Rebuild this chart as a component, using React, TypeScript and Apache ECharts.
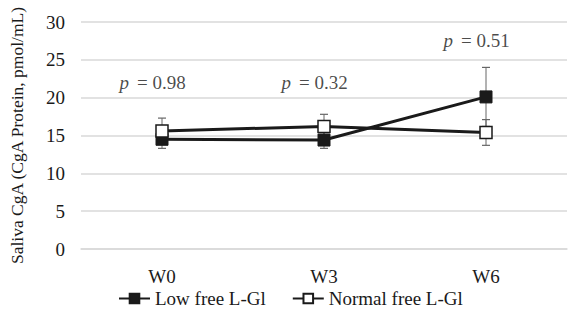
import React, { useEffect, useRef } from "react";
import * as echarts from "echarts";

const categories = ["W0", "W3", "W6"];
const lowValues = [14.5, 14.4, 20.1];
const lowErrors = [1.2, 1.1, 3.9];
const normalValues = [15.6, 16.2, 15.4];
const normalErrors = [1.7, 1.6, 1.7];
const pLabels = ["0.98", "0.32", "0.51"];
const pHeights = [22.0, 22.0, 27.6];
const yTicks = { min: 0, max: 30, interval: 5 };

const FONT = "Liberation Serif";
const INK = "#1a1a1a";

export default function App() {
  const ref = useRef<HTMLDivElement>(null);
  useEffect(() => {
    document.body.style.margin = "0";
    if (!ref.current) return;
    const chart = echarts.init(ref.current, null, { renderer: "svg" });

    const errorSeries: any[] = [];
    categories.forEach((c, i) => {
      [
        [lowValues[i], lowErrors[i]],
        [normalValues[i], normalErrors[i]],
      ].forEach(([v, e]) => {
        errorSeries.push({
          type: "line",
          z: 1,
          silent: true,
          data: [
            [i, v - e],
            [i, v + e],
          ],
          symbol: "rect",
          symbolSize: [8, 1.2],
          showSymbol: true,
          itemStyle: { color: "#666" },
          lineStyle: { color: "#666", width: 1 },
        });
      });
    });

    chart.setOption({
      animation: false,
      backgroundColor: "#fff",
      textStyle: { fontFamily: FONT },
      grid: { left: 67, right: 2, top: 22, bottom: 67 },
      legend: {
        data: ["Low free L-Gl", "Normal free L-Gl"],
        bottom: 3,
        left: 113,
        itemWidth: 31,
        itemHeight: 12,
        itemGap: 26,
        textStyle: { fontFamily: FONT, fontSize: 19, color: INK },
      },
      xAxis: {
        type: "category",
        data: categories,
        axisTick: { show: false },
        axisLine: { lineStyle: { color: "#d9d9d9", width: 1.5 } },
        axisLabel: { fontFamily: FONT, fontSize: 19, color: INK, margin: 18 },
      },
      yAxis: {
        type: "value",
        min: yTicks.min,
        max: yTicks.max,
        interval: yTicks.interval,
        name: "Saliva CgA (CgA Protein, pmol/mL)",
        nameLocation: "middle",
        nameGap: 55,
        nameTextStyle: { fontFamily: FONT, fontSize: 17.5, color: INK },
        axisLabel: { fontFamily: FONT, fontSize: 19, color: INK, margin: 16 },
        splitLine: { lineStyle: { color: "#d9d9d9", width: 1.5 } },
      },
      series: [
        ...errorSeries,
        {
          name: "Low free L-Gl",
          type: "line",
          z: 3,
          data: lowValues,
          symbol: "rect",
          symbolSize: 12,
          lineStyle: { color: INK, width: 3 },
          itemStyle: { color: INK, borderColor: INK, borderWidth: 1 },
        },
        {
          name: "Normal free L-Gl",
          type: "line",
          z: 4,
          data: normalValues,
          symbol: "rect",
          symbolSize: 12,
          lineStyle: { color: INK, width: 3 },
          itemStyle: { color: "#fff", borderColor: INK, borderWidth: 1.5 },
        },
        {
          type: "scatter",
          z: 5,
          silent: true,
          symbol: "circle",
          symbolSize: 1,
          itemStyle: { color: "rgba(0,0,0,0)" },
          data: pHeights.map((h, i) => [i, h]),
          label: {
            show: true,
            position: "inside",
            align: "right",
            offset: [-33, 0],
            formatter: "p",
            fontFamily: FONT,
            fontSize: 19,
            fontStyle: "italic",
            color: INK,
          },
        },
        {
          type: "scatter",
          z: 5,
          silent: true,
          symbol: "circle",
          symbolSize: 1,
          itemStyle: { color: "rgba(0,0,0,0)" },
          data: pHeights.map((h, i) => [i, h, pLabels[i]]),
          label: {
            show: true,
            position: "inside",
            align: "left",
            offset: [-25, 0],
            formatter: (p: any) => "= " + p.value[2],
            fontFamily: FONT,
            fontSize: 19,
            color: INK,
          },
        },
      ],
    });
    return () => chart.dispose();
  }, []);
  return <div ref={ref} style={{ width: 569, height: 316 }} />;
}
